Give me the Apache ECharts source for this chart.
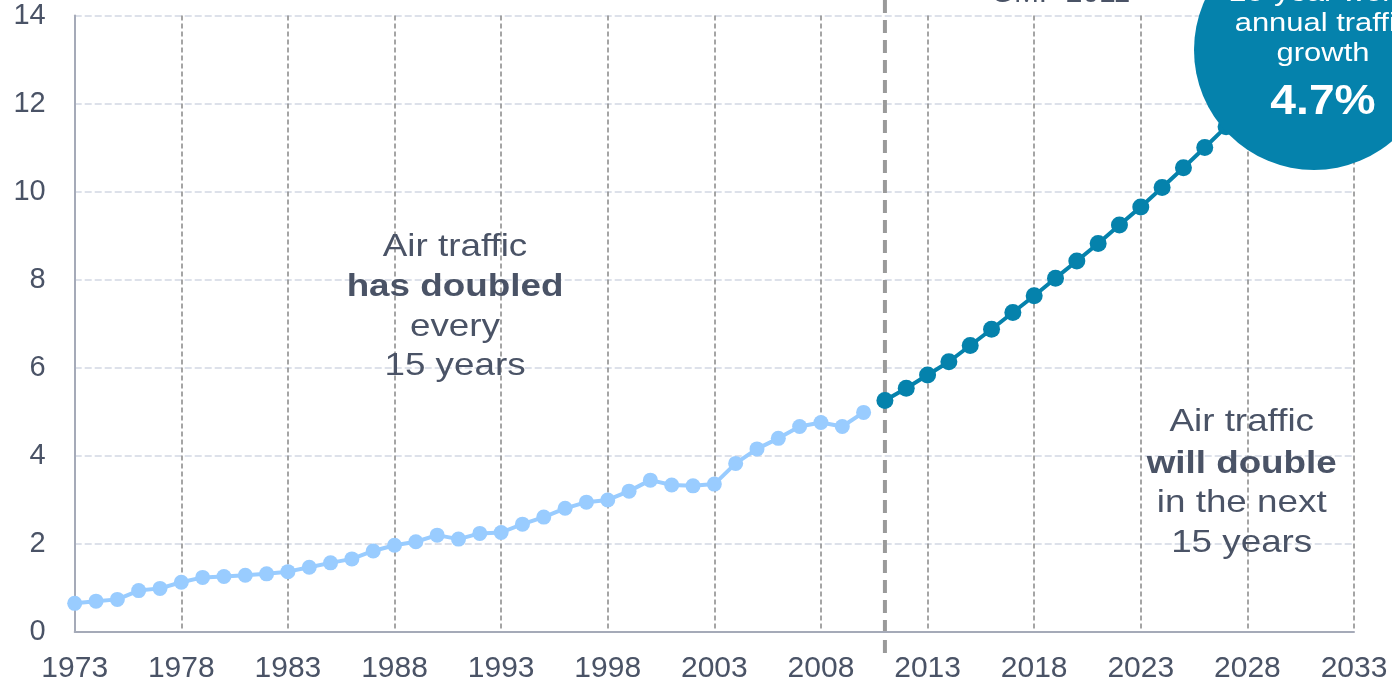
<!DOCTYPE html>
<html>
<head>
<meta charset="utf-8">
<script src="https://cdn.jsdelivr.net/npm/echarts@6/dist/echarts.min.js"></script>
<style>
  html, body { margin: 0; padding: 0; background: #ffffff; }
  #chart { width: 1392px; height: 685px; }
</style>
</head>
<body>
<div id="chart"></div>
<script>
// Year categories along the x axis
const firstYear = 1973;
const lastYear = 2033;
const years = [];
for (let y = firstYear; y <= lastYear; y++) years.push(String(y));

// Historical world air traffic (trillion RPK), 1973–2010
const pastStartYear = 1973;
const pastTraffic = [
  0.64, 0.69, 0.73, 0.93, 0.98, 1.12, 1.23, 1.25, 1.28, 1.31,
  1.36, 1.46, 1.56, 1.65, 1.83, 1.96, 2.04, 2.19, 2.10, 2.23,
  2.25, 2.44, 2.60, 2.80, 2.94, 2.99, 3.19, 3.44, 3.33, 3.31,
  3.35, 3.82, 4.15, 4.39, 4.66, 4.75, 4.66, 4.98
];

// Forecast (GMF 2011), 2011–2031
const forecastStartYear = 2011;
const forecastTraffic = [
  5.25, 5.53, 5.83, 6.13, 6.50, 6.87, 7.25, 7.63, 8.03, 8.42,
  8.82, 9.24, 9.65, 10.09, 10.54, 11.00, 11.47, 11.95, 12.45, 12.96,
  13.48
];

// Value axis ticks
const yMin = 0, yMax = 14, yStep = 2;
// Every fifth year gets a label and a vertical grid line
const yearStep = 5;

// Annotation texts
const pastNote = ['Air traffic', 'has doubled', 'every', '15 years'];
const futureNote = ['Air traffic', 'will double', 'in the next', '15 years'];
const bubbleNote = ['20-year world', 'annual traffic', 'growth'];
const bubbleValue = '4.7%';
const forecastTag = 'GMF 2011';
const unitTag = '(RPK)';

const toPairs = (start, vals) => vals.map((v, i) => [String(start + i), v]);

const FONT = '"Liberation Sans", Arial, Helvetica, sans-serif';
const TEXT = '#4a5366';
const LIGHT = '#99ccff';
const DARK = '#0582ac';

const chart = echarts.init(document.getElementById('chart'));

const option = {
  animation: false,
  backgroundColor: '#ffffff',
  grid: { left: 74.7, right: 38, top: 15.5, bottom: 53.5, containLabel: false, outerBoundsMode: 'none' },
  xAxis: {
    type: 'category',
    data: years,
    boundaryGap: false,
    z: 1,
    axisLine: { show: true, lineStyle: { color: '#a5aab8', width: 2 } },
    axisTick: { show: false },
    axisLabel: {
      interval: yearStep - 1, margin: 22, fontSize: 30, color: TEXT, fontFamily: FONT
    },
    splitLine: {
      show: true,
      interval: (idx) => idx > 0 && idx % yearStep === 0,
      lineStyle: { color: '#8f8f8f', width: 1.6, type: [5, 3] }
    }
  },
  yAxis: {
    type: 'value',
    min: yMin, max: yMax, interval: yStep,
    z: 1,
    axisLine: { show: true, lineStyle: { color: '#a5aab8', width: 2 } },
    axisTick: { show: false },
    axisLabel: { margin: 29, fontSize: 29, color: TEXT, fontFamily: FONT },
    splitLine: {
      show: true, showMinLine: false,
      lineStyle: { color: '#dde1ea', width: 2, type: [7, 3] }
    }
  },
  series: [
    {
      name: 'History', type: 'line',
      data: toPairs(pastStartYear, pastTraffic),
      symbol: 'circle', symbolSize: 15, showAllSymbol: true,
      lineStyle: { color: LIGHT, width: 4 },
      itemStyle: { color: LIGHT },
      z: 3
    },
    {
      name: 'Forecast', type: 'line',
      data: toPairs(forecastStartYear, forecastTraffic),
      symbol: 'circle', symbolSize: 17, showAllSymbol: true,
      lineStyle: { color: DARK, width: 4 },
      itemStyle: { color: DARK },
      z: 3
    }
  ]
};

chart.setOption(option);

// Text line placed by its baseline; widened glyphs via scaleX
function textLine(str, cx, baseline, size, bold, color, sx, z) {
  return {
    type: 'text', x: cx, y: baseline - 0.35 * size, scaleX: sx, z: z || 5,
    style: {
      text: str, x: 0, y: 0, align: 'center', verticalAlign: 'middle',
      fontSize: size, fontWeight: bold ? 'bold' : 'normal',
      fontFamily: FONT, fill: color
    }
  };
}

const splitX = chart.convertToPixel({ xAxisIndex: 0 }, String(forecastStartYear));

const graphics = [
  // divider between history and forecast
  {
    type: 'line', z: 1,
    shape: { x1: splitX, y1: 0, x2: splitX, y2: 653 },
    style: { stroke: '#9a9a9a', lineWidth: 4, lineDash: [13, 7] }
  },
  textLine(unitTag, 118, -4.3, 30, false, TEXT, 1.1),
  textLine(forecastTag, 1060.5, 4, 30, false, TEXT, 1.0),
  textLine(pastNote[0], 455, 258.3, 32, false, TEXT, 1.15),
  textLine(pastNote[1], 455, 298.3, 32, true, TEXT, 1.15),
  textLine(pastNote[2], 455, 338.3, 32, false, TEXT, 1.15),
  textLine(pastNote[3], 455, 377.7, 32, false, TEXT, 1.15),
  textLine(futureNote[0], 1241.7, 433.3, 32, false, TEXT, 1.15),
  textLine(futureNote[1], 1241.7, 475, 32, true, TEXT, 1.15),
  textLine(futureNote[2], 1241.7, 514.5, 32, false, TEXT, 1.15),
  textLine(futureNote[3], 1241.7, 554.3, 32, false, TEXT, 1.15),
  // growth bubble
  {
    type: 'circle', z: 10,
    shape: { cx: 1314, cy: 50, r: 120 },
    style: { fill: DARK }
  },
  textLine(bubbleNote[0], 1323, 3.3, 26, false, '#ffffff', 1.19, 11),
  textLine(bubbleNote[1], 1323, 33.3, 26, false, '#ffffff', 1.19, 11),
  textLine(bubbleNote[2], 1323, 63.3, 26, false, '#ffffff', 1.19, 11),
  textLine(bubbleValue, 1323, 116.7, 42, true, '#ffffff', 1.1, 11)
];

chart.setOption({ graphic: { elements: graphics } });
</script>
</body>
</html>
